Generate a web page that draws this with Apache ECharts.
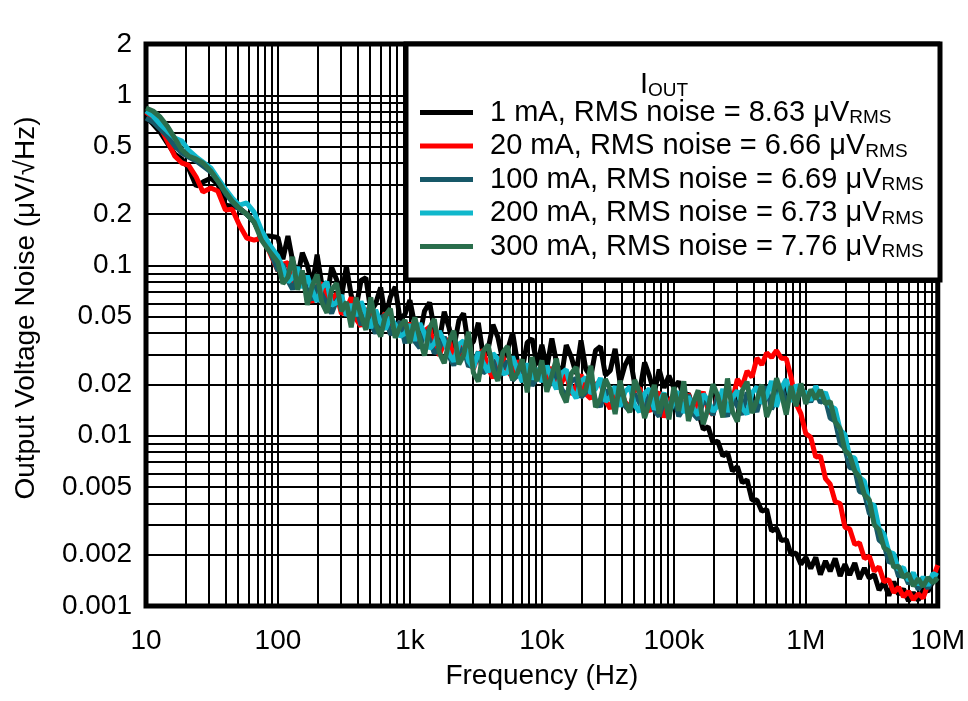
<!DOCTYPE html>
<html>
<head>
<meta charset="utf-8">
<title>Output Voltage Noise vs Frequency</title>
<script src="https://cdn.jsdelivr.net/npm/echarts@6/dist/echarts.min.js"></script>
<style>
  html, body { margin: 0; padding: 0; background: #fff; }
  #chart { width: 968px; height: 701px; }
</style>
</head>
<body>
<div id="chart"></div>
<script>
// frequency points (Hz), shared by every curve
const freq = [
  10, 11.3, 12.8, 14.5, 16.5, 18.7, 21, 24, 27, 31, 35, 40, 45, 51, 58, 66, 75, 85,
  100, 109, 119, 129, 141, 153, 167, 182, 198, 215, 235, 255, 278, 303, 330, 359, 391, 426, 464, 505, 550, 600, 653, 711, 774, 843, 918,
  1e3, 1.09e3, 1.19e3, 1.29e3, 1.41e3, 1.53e3, 1.67e3, 1.82e3, 1.98e3, 2.15e3, 2.35e3, 2.55e3, 2.78e3, 3.03e3, 3.3e3, 3.59e3, 3.91e3, 4.26e3, 4.64e3, 5.05e3, 5.5e3, 6e3, 6.53e3, 7.11e3, 7.74e3, 8.43e3, 9.18e3,
  1e4, 1.09e4, 1.19e4, 1.29e4, 1.41e4, 1.53e4, 1.67e4, 1.82e4, 1.98e4, 2.15e4, 2.35e4, 2.55e4, 2.78e4, 3.03e4, 3.3e4, 3.59e4, 3.91e4, 4.26e4, 4.64e4, 5.05e4, 5.5e4, 6e4, 6.53e4, 7.11e4, 7.74e4, 8.43e4, 9.18e4,
  1e5, 1.09e5, 1.19e5, 1.29e5, 1.41e5, 1.53e5, 1.67e5, 1.82e5, 1.98e5, 2.15e5, 2.35e5, 2.55e5, 2.78e5, 3.03e5, 3.3e5, 3.59e5, 3.91e5, 4.26e5, 4.64e5, 5.05e5, 5.5e5, 6e5, 6.53e5, 7.11e5, 7.74e5, 8.43e5, 9.18e5,
  1e6, 1.09e6, 1.19e6, 1.29e6, 1.41e6, 1.53e6, 1.67e6, 1.82e6, 1.98e6, 2.15e6, 2.35e6, 2.55e6, 2.78e6, 3.03e6, 3.3e6, 3.59e6, 3.91e6, 4.26e6, 4.64e6, 5.05e6, 5.5e6, 6e6, 6.53e6, 7.11e6, 7.74e6, 8.43e6, 9.18e6,
  1e7
]

// noise density in uV/rtHz (one row per decade, 10 Hz .. 10 MHz)
const noise1mA = [
  0.745, 0.677, 0.608, 0.524, 0.452, 0.422, 0.374, 0.293, 0.309, 0.326, 0.301, 0.226, 0.223, 0.217, 0.200, 0.180, 0.149, 0.149,
  0.146, 0.109, 0.149, 0.107, 0.086, 0.119, 0.100, 0.0765, 0.116, 0.0772, 0.0645, 0.0976, 0.0827, 0.0652, 0.0991, 0.0667, 0.0565, 0.0817, 0.0847, 0.054, 0.0596, 0.0743, 0.0494, 0.0652, 0.075, 0.0479, 0.0518,
  0.0626, 0.0443, 0.0391, 0.0541, 0.0607, 0.0419, 0.036, 0.0535, 0.043, 0.0327, 0.0476, 0.0523, 0.0334, 0.0358, 0.0461, 0.0296, 0.0322, 0.0449, 0.0379, 0.0278, 0.0319, 0.0403, 0.027, 0.0247, 0.0353, 0.0371, 0.026,
  0.0342, 0.0249, 0.0373, 0.0269, 0.0224, 0.0341, 0.029, 0.0231, 0.0363, 0.0246, 0.0222, 0.0317, 0.0334, 0.0227, 0.0242, 0.0324, 0.0205, 0.0259, 0.0295, 0.0201, 0.018, 0.027, 0.0224, 0.0178, 0.0245, 0.0191, 0.0225,
  0.0191, 0.0208, 0.0168, 0.0177, 0.0142, 0.0139, 0.0109, 0.0113, 0.0091, 0.0093, 0.0076, 0.008, 0.0062, 0.0066, 0.0053, 0.0055, 0.0042, 0.0042, 0.0036, 0.0037, 0.00276, 0.00286, 0.00242, 0.00246, 0.002, 0.00205, 0.00176,
  0.00193, 0.00166, 0.00193, 0.00153, 0.00184, 0.0016, 0.0019, 0.0015, 0.00176, 0.00152, 0.00179, 0.00144, 0.00167, 0.00146, 0.00153, 0.00124, 0.00138, 0.00115, 0.00139, 0.00117, 0.00126, 0.00107, 0.0012, 0.00108, 0.00126, 0.00122, 0.0014,
  0.00142
]
const noise20mA = [
  0.797, 0.735, 0.651, 0.538, 0.440, 0.400, 0.389, 0.331, 0.270, 0.285, 0.274, 0.212, 0.214, 0.173, 0.145, 0.141, 0.145, 0.123,
  0.0929, 0.102, 0.104, 0.0783, 0.0817, 0.0902, 0.0679, 0.0608, 0.0759, 0.0784, 0.0612, 0.0631, 0.068, 0.0519, 0.0549, 0.065, 0.0484, 0.0439, 0.0546, 0.0556, 0.0441, 0.0475, 0.0526, 0.0396, 0.0423, 0.0466, 0.0378,
  0.046, 0.039, 0.0346, 0.0413, 0.0435, 0.0329, 0.0298, 0.0352, 0.0369, 0.0286, 0.0298, 0.0355, 0.0275, 0.0247, 0.030, 0.0317, 0.025, 0.0218, 0.0278, 0.0293, 0.0239, 0.0221, 0.0276, 0.0246, 0.0213, 0.0258, 0.0225,
  0.0247, 0.0207, 0.0253, 0.019, 0.0205, 0.0232, 0.0174, 0.0197, 0.0229, 0.0176, 0.0165, 0.020, 0.0208, 0.0161, 0.0144, 0.0181, 0.0191, 0.0158, 0.0146, 0.0185, 0.0191, 0.0148, 0.0139, 0.017, 0.018, 0.0128, 0.0159,
  0.0175, 0.0139, 0.015, 0.0176, 0.0133, 0.0157, 0.0181, 0.0142, 0.0133, 0.0174, 0.0152, 0.019, 0.0162, 0.0215, 0.0195, 0.024, 0.0221, 0.0286, 0.0261, 0.0307, 0.0288, 0.0317, 0.0285, 0.0284, 0.0221, 0.0155, 0.0135,
  0.0103, 0.0098, 0.0075, 0.0076, 0.0056, 0.0052, 0.0041, 0.004, 0.0029, 0.00284, 0.0023, 0.00235, 0.0019, 0.00196, 0.0016, 0.0017, 0.00139, 0.00143, 0.0012, 0.00129, 0.00113, 0.00122, 0.00109, 0.00118, 0.00111, 0.00134, 0.00146,
  0.00174
]
const noise100mA = [
  0.735, 0.696, 0.633, 0.576, 0.503, 0.458, 0.434, 0.411, 0.384, 0.354, 0.314, 0.266, 0.236, 0.214, 0.200, 0.180, 0.149, 0.127,
  0.0931, 0.1016, 0.0812, 0.0725, 0.0868, 0.0891, 0.0705, 0.0627, 0.0765, 0.0679, 0.0594, 0.0523, 0.0623, 0.0663, 0.0515, 0.0525, 0.0566, 0.0446, 0.0555, 0.0451, 0.0399, 0.0494, 0.0511, 0.0393, 0.0419, 0.0469, 0.035,
  0.0426, 0.0358, 0.0328, 0.0416, 0.0367, 0.0305, 0.0327, 0.0382, 0.0292, 0.0259, 0.0311, 0.0327, 0.0255, 0.0271, 0.0311, 0.0233, 0.0248, 0.028, 0.0218, 0.0249, 0.0274, 0.0212, 0.0226, 0.0258, 0.0235, 0.0197, 0.0218,
  0.0246, 0.0192, 0.0206, 0.024, 0.0189, 0.017, 0.0209, 0.0217, 0.0168, 0.018, 0.021, 0.0161, 0.0148, 0.0186, 0.0168, 0.0148, 0.0186, 0.015, 0.0139, 0.0176, 0.0156, 0.0135, 0.0177, 0.0141, 0.013, 0.0161, 0.0142,
  0.017, 0.013, 0.0146, 0.0174, 0.0134, 0.0125, 0.0161, 0.0153, 0.0132, 0.0172, 0.0142, 0.013, 0.0168, 0.0149, 0.0133, 0.018, 0.0157, 0.0138, 0.0177, 0.0193, 0.0143, 0.0167, 0.020, 0.0152, 0.0185, 0.0164, 0.0178,
  0.0178, 0.0158, 0.018, 0.0157, 0.0163, 0.0127, 0.0122, 0.009, 0.0084, 0.0065, 0.0064, 0.0047, 0.0046, 0.0035, 0.0033, 0.00244, 0.00231, 0.0018, 0.00186, 0.00149, 0.00158, 0.00135, 0.00146, 0.00125, 0.00139, 0.00127, 0.00144,
  0.00142
]
const noise200mA = [
  0.808, 0.755, 0.677, 0.616, 0.561, 0.538, 0.477, 0.434, 0.405, 0.374, 0.326, 0.281, 0.249, 0.226, 0.233, 0.206, 0.161, 0.135,
  0.113, 0.097, 0.080, 0.0846, 0.098, 0.0738, 0.0869, 0.0714, 0.0613, 0.0742, 0.0802, 0.0585, 0.0605, 0.0671, 0.0507, 0.0593, 0.0506, 0.0615, 0.052, 0.0429, 0.0549, 0.0461, 0.0423, 0.0497, 0.045, 0.0383, 0.0399,
  0.0451, 0.0361, 0.0458, 0.0398, 0.0325, 0.0348, 0.0412, 0.0359, 0.0302, 0.0273, 0.0345, 0.0361, 0.0275, 0.025, 0.0309, 0.0269, 0.0236, 0.0305, 0.0283, 0.0231, 0.0236, 0.0292, 0.0243, 0.0207, 0.0266, 0.0215, 0.0249,
  0.0207, 0.0258, 0.0215, 0.0188, 0.0233, 0.0245, 0.0186, 0.0166, 0.0209, 0.022, 0.0177, 0.0189, 0.0218, 0.0159, 0.0169, 0.0195, 0.0148, 0.0181, 0.0194, 0.0151, 0.0138, 0.0177, 0.0189, 0.0143, 0.0158, 0.0179, 0.0135,
  0.0159, 0.0182, 0.0136, 0.017, 0.0144, 0.0132, 0.0176, 0.0161, 0.0139, 0.015, 0.0188, 0.0138, 0.0168, 0.0184, 0.0145, 0.0134, 0.0178, 0.0194, 0.0155, 0.0171, 0.021, 0.0148, 0.019, 0.0215, 0.0158, 0.0199, 0.018,
  0.018, 0.0161, 0.0196, 0.0167, 0.018, 0.0149, 0.0144, 0.0108, 0.0102, 0.0075, 0.0074, 0.0057, 0.0054, 0.004, 0.0039, 0.00285, 0.00265, 0.00207, 0.00203, 0.00163, 0.00168, 0.00141, 0.00157, 0.00133, 0.00148, 0.00132, 0.00155,
  0.0015
]
const noise300mA = [
  0.841, 0.808, 0.745, 0.659, 0.561, 0.477, 0.440, 0.422, 0.400, 0.359, 0.314, 0.270, 0.239, 0.217, 0.200, 0.180, 0.141, 0.123,
  0.1044, 0.0781, 0.0853, 0.1125, 0.0719, 0.0935, 0.0588, 0.076, 0.0886, 0.0607, 0.0527, 0.0718, 0.0787, 0.0539, 0.061, 0.0433, 0.0647, 0.0508, 0.0419, 0.065, 0.045, 0.0383, 0.0511, 0.0558, 0.0376, 0.044, 0.0479,
  0.0349, 0.0497, 0.0369, 0.0296, 0.043, 0.0485, 0.0308, 0.0267, 0.0358, 0.0413, 0.0263, 0.0296, 0.0408, 0.0234, 0.0208, 0.0313, 0.0342, 0.0245, 0.021, 0.0308, 0.0336, 0.0213, 0.0234, 0.0281, 0.018, 0.029, 0.0209,
  0.0277, 0.0181, 0.0226, 0.0284, 0.018, 0.0157, 0.0232, 0.0253, 0.0173, 0.0185, 0.0258, 0.0147, 0.0164, 0.0215, 0.0187, 0.0134, 0.0211, 0.0157, 0.0137, 0.0213, 0.018, 0.0127, 0.0158, 0.0199, 0.0135, 0.0177, 0.0125,
  0.0193, 0.014, 0.0209, 0.0122, 0.0157, 0.0185, 0.0117, 0.0145, 0.0201, 0.0172, 0.0128, 0.0217, 0.0139, 0.0121, 0.0184, 0.0208, 0.0136, 0.0162, 0.020, 0.0129, 0.0153, 0.0218, 0.0177, 0.0133, 0.0196, 0.0149, 0.0203,
  0.0154, 0.0187, 0.0164, 0.0186, 0.0154, 0.0159, 0.0121, 0.011, 0.0082, 0.0077, 0.0062, 0.0057, 0.0045, 0.0042, 0.0030, 0.0028, 0.0022, 0.0021, 0.00169, 0.00171, 0.00147, 0.00155, 0.00131, 0.00145, 0.0013, 0.00147, 0.00137,
  0.00146
]

const currents = ['1 mA', '20 mA', '100 mA', '200 mA', '300 mA']
const rmsNoise = ['8.63', '6.66', '6.69', '6.73', '7.76']
const colors = ['#000000', '#ff0000', '#175868', '#10b8cc', '#2a6e4c']
const allNoise = [noise1mA, noise20mA, noise100mA, noise200mA, noise300mA]

// tick labels
const xTickValues = [10, 100, 1e3, 1e4, 1e5, 1e6, 1e7]
const xTickLabels = ['10', '100', '1k', '10k', '100k', '1M', '10M']
const yTickValues = [0.001, 0.002, 0.005, 0.01, 0.02, 0.05, 0.1, 0.2, 0.5, 1, 2]
const yTickLabels = ['0.001', '0.002', '0.005', '0.01', '0.02', '0.05', '0.1', '0.2', '0.5', '1', '2']

// grid lines: 1..9 in each decade
const xGridValues = []
for (let d = 10; d < 1e7; d *= 10) {
  for (let m = 1; m <= 9; m++) xGridValues.push(m * d)
}
const yGridValues = []
for (let d = 0.001; d < 1; d *= 10) {
  for (let m = 1; m <= 9; m++) yGridValues.push(m * d)
}
yGridValues.push(1)

const FONT = "'Liberation Sans', Arial, sans-serif"

function nearestLabel(v, values, labels) {
  let best = 0
  for (let i = 1; i < values.length; i++) {
    if (Math.abs(Math.log10(values[i]) - v) < Math.abs(Math.log10(values[best]) - v)) best = i
  }
  return labels[best]
}

const chart = echarts.init(document.getElementById('chart'), null, { renderer: 'canvas' })

const option = {
  animation: false,
  backgroundColor: '#ffffff',
  textStyle: { fontFamily: FONT, color: '#000' },
  grid: {
    left: 146, right: 28, top: 44, bottom: 95,
    show: true,
    borderColor: '#000',
    borderWidth: 5,
    backgroundColor: 'transparent'
  },
  xAxis: [
    // data axis (log)
    { type: 'log', logBase: 10, min: 10, max: 1e7, show: false },
    // same range in decades, only for ticks / labels / grid lines
    {
      type: 'value', min: 1, max: 7, position: 'bottom',
      axisLine: { show: false },
      axisTick: { show: false, customValues: xGridValues.map(Math.log10) },
      splitLine: { show: true, lineStyle: { color: '#000', width: 2 } },
      axisLabel: {
        customValues: xTickValues.map(Math.log10),
        formatter: v => nearestLabel(v, xTickValues, xTickLabels),
        fontSize: 28, color: '#000', margin: 21, fontFamily: FONT
      },
      name: 'Frequency (Hz)',
      nameLocation: 'middle',
      nameGap: 56,
      nameTextStyle: { fontSize: 28, color: '#000', fontFamily: FONT }
    }
  ],
  yAxis: [
    { type: 'log', logBase: 10, min: 0.001, max: 2, show: false },
    {
      type: 'value', min: Math.log10(0.001), max: Math.log10(2), position: 'left',
      axisLine: { show: false },
      axisTick: { show: false, customValues: yGridValues.map(Math.log10) },
      splitLine: { show: true, lineStyle: { color: '#000', width: 2 } },
      axisLabel: {
        customValues: yTickValues.map(Math.log10),
        formatter: v => nearestLabel(v, yTickValues, yTickLabels),
        fontSize: 28, color: '#000', margin: 14, fontFamily: FONT
      },
      name: 'Output Voltage Noise (\u03bcV/\u221aHz)',
      nameLocation: 'middle',
      nameGap: 106,
      nameTextStyle: { fontSize: 28, color: '#000', fontFamily: FONT, padding: [0, 0, 0, 34] }
    }
  ],
  legend: {
    orient: 'vertical',
    left: 420,
    top: 98,
    padding: 0,
    itemGap: 4,
    itemWidth: 53,
    itemHeight: 5,
    icon: 'rect',
    z: 60,
    selectedMode: false,
    data: currents,
    formatter: name => {
      const i = currents.indexOf(name)
      return '{t|' + name + ', RMS noise = ' + rmsNoise[i] + ' \u03bcV}{s|RMS}'
    },
    textStyle: {
      padding: [0, 0, 0, 12],
      rich: {
        t: { fontSize: 29, lineHeight: 30, color: '#000', fontFamily: FONT },
        s: { fontSize: 19, lineHeight: 30, verticalAlign: 'bottom', color: '#000', fontFamily: FONT }
      }
    }
  },
  title: {
    text: '{i|I}{s|OUT}',
    left: 640,
    top: 70,
    padding: 0,
    z: 60,
    textStyle: {
      fontWeight: 'normal',
      rich: {
        i: { fontSize: 29, lineHeight: 30, fontWeight: 'normal', color: '#000', fontFamily: FONT },
        s: { fontSize: 19, lineHeight: 30, verticalAlign: 'bottom', fontWeight: 'normal', color: '#000', fontFamily: FONT }
      }
    }
  },
  graphic: [
    {
      type: 'rect',
      z: 50,
      shape: { x: 406, y: 44, width: 534, height: 236 },
      style: { fill: '#ffffff', stroke: '#000000', lineWidth: 5 }
    }
  ],
  series: currents.map((name, k) => ({
    name: name,
    type: 'line',
    xAxisIndex: 0,
    yAxisIndex: 0,
    showSymbol: false,
    symbol: 'none',
    data: freq.map((f, i) => [f, allNoise[k][i]]),
    lineStyle: { color: colors[k], width: 5 },
    itemStyle: { color: colors[k] },
    z: 2 + k
  }))
}

chart.setOption(option)
</script>
</body>
</html>
